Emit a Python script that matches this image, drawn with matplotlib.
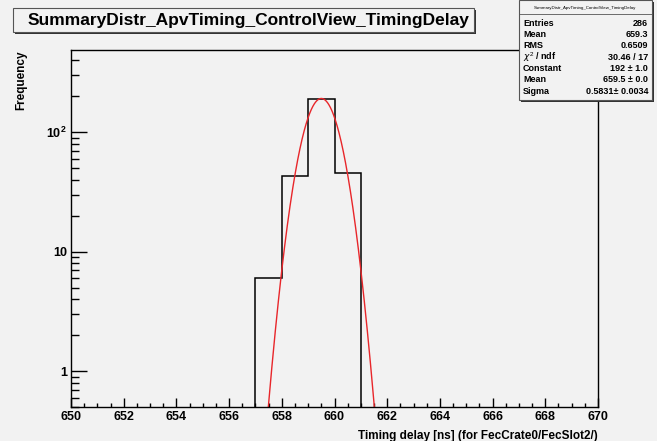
import matplotlib
matplotlib.use('Agg')
import matplotlib.pyplot as plt
import numpy as np
from matplotlib.patches import Rectangle
from matplotlib.ticker import FixedLocator, FixedFormatter, MultipleLocator

plt.rcParams['font.family'] = ['Liberation Sans', 'DejaVu Sans']
plt.rcParams['mathtext.fontset'] = 'custom'
plt.rcParams['mathtext.rm'] = 'Liberation Sans'
plt.rcParams['mathtext.bf'] = 'Liberation Sans:bold'

# histogram data (bin edges 1 ns wide)
bin_edges = [657, 658, 659, 660, 661]
counts = [6, 43, 191, 46]

# fit parameters from the stats box
fit_const = 192
fit_mean = 659.5
fit_sigma = 0.5831

title = 'SummaryDistr_ApvTiming_ControlView_TimingDelay'
stat_names = ['Entries', 'Mean', 'RMS', r'$\chi^2$ / ndf', 'Constant', 'Mean', 'Sigma']
stat_vals = ['286', '659.3', '0.6509', '30.46 / 17', '192 \u00b1 1.0', '659.5 \u00b1 0.0',
             '0.5831\u00b1 0.0034']

bg = '#f2f2f2'
W, H = 657, 441
fig = plt.figure(figsize=(W / 100, H / 100), dpi=100, facecolor=bg)

def fx(px):
    return px / W

def fy(py):
    return 1 - py / H

ax = fig.add_axes([fx(71), fy(407), fx(598) - fx(71), fy(50) - fy(407)], facecolor=bg)
ax.set_yscale('log')
ax.set_xlim(650, 670)
ax.set_ylim(0.5, 489)

ax.stairs(counts, bin_edges, baseline=0.5, color='black', lw=1.1)

xf = np.linspace(656, 663, 600)
yf = fit_const * np.exp(-0.5 * ((xf - fit_mean) / fit_sigma) ** 2)
ax.plot(xf, yf, color='#e8262a', lw=1.0)

for s in ax.spines.values():
    s.set_linewidth(1.0)
    s.set_color('black')

ax.xaxis.set_major_locator(MultipleLocator(2))
ax.xaxis.set_minor_locator(MultipleLocator(0.5))
ax.yaxis.set_major_locator(FixedLocator([1, 10, 100]))
ax.yaxis.set_major_formatter(FixedFormatter(['1', '10', r'$\mathbf{10^2}$']))
minors = [m * 10.0 ** e for e in (-1, 0, 1, 2) for m in range(2, 10)]
ax.yaxis.set_minor_locator(FixedLocator(minors))
ax.yaxis.set_minor_formatter(FixedFormatter([''] * len(minors)))

ax.tick_params(axis='both', which='both', direction='in', top=False, right=False,
               width=1.0, color='black')
ax.tick_params(axis='x', which='major', length=6.5, pad=3, labelsize=9)
ax.tick_params(axis='x', which='minor', length=3)
ax.tick_params(axis='y', which='major', length=11.5, pad=3, labelsize=9)
ax.tick_params(axis='y', which='minor', length=5.8)
for lab in ax.get_xticklabels() + ax.get_yticklabels():
    lab.set_fontweight('bold')

# axis titles
fig.text(fx(598), fy(436), 'Timing delay [ns] (for FecCrate0/FecSlot2/)', ha='right',
         va='center', fontsize=8.5, fontweight='bold')
fig.text(fx(21), fy(50), 'Frequency', rotation=90, ha='center', va='top',
         fontsize=8.5, fontweight='bold')

# title box with shadow
fig.patches.append(Rectangle((fx(15), fy(34)), fx(476) - fx(15), fy(10) - fy(34),
                             transform=fig.transFigure, facecolor='#333333', edgecolor='none'))
fig.patches.append(Rectangle((fx(13), fy(32)), fx(474) - fx(13), fy(8) - fy(32),
                             transform=fig.transFigure, facecolor=bg, edgecolor='#555555', lw=0.8))
fig.text(fx(249), fy(21), title, ha='center', va='center', fontsize=12.5, fontweight='bold')

# stats box with shadow
fig.patches.append(Rectangle((fx(521), fy(102)), fx(654) - fx(521), fy(2) - fy(102),
                             transform=fig.transFigure, facecolor='#333333', edgecolor='none',
                             zorder=5))
fig.patches.append(Rectangle((fx(519), fy(100)), fx(652) - fx(519), fy(0) - fy(100),
                             transform=fig.transFigure, facecolor=bg, edgecolor='#555555', lw=0.8,
                             zorder=6))
fig.text(fx(585), fy(8), title, ha='center', va='center', fontsize=3.2, zorder=7)
fig.lines.append(plt.Line2D([fx(519), fx(652)], [fy(14), fy(14)], transform=fig.transFigure,
                            color='#555555', lw=0.6, zorder=7))
for i, (n, v) in enumerate(zip(stat_names, stat_vals)):
    y = fy(23 + i * 11.4)
    fig.text(fx(523), y, n, ha='left', va='center', fontsize=6.5, fontweight='bold', zorder=7)
    fig.text(fx(648), y, v, ha='right', va='center', fontsize=6.5, fontweight='bold', zorder=7)

fig.savefig('out.png', dpi=100, facecolor=bg)
